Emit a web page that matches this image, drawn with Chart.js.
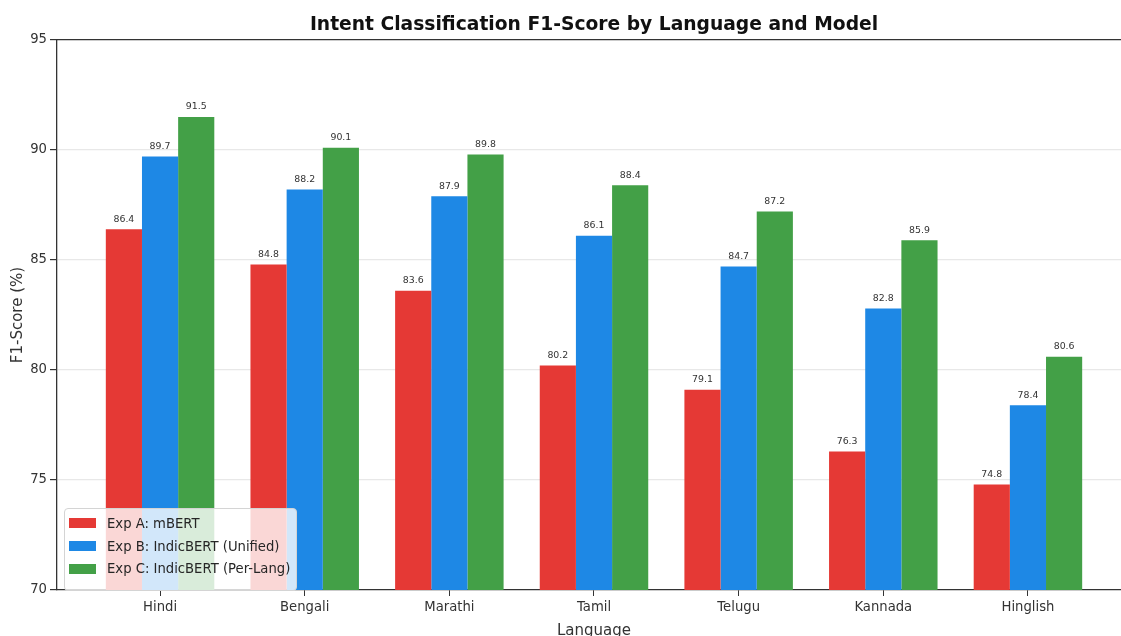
<!DOCTYPE html>
<html>
<head>
<meta charset="utf-8">
<script src="https://cdn.jsdelivr.net/npm/chart.js@4/dist/chart.umd.min.js"></script>
<style>
  html, body { margin: 0; padding: 0; background: #fff; }
  #wrap { width: 1121px; height: 636px; overflow: hidden; position: relative; }
  #inner { position: absolute; left: 0; top: 0; width: 1188px; height: 660px; }
  #legend {
    position: absolute; left: 64px; top: 508px; width: 231px; height: 78px;
    border: 1px solid #d4d4d4; border-radius: 4px; background: rgba(255,255,255,0.8);
    font-family: 'DejaVu Sans', sans-serif; font-size: 13.2px; color: #262626;
    padding-top: 3px; box-sizing: content-box; white-space: nowrap;
  }
  #legend .row { height: 22.7px; display: flex; align-items: center; }
  #legend .sw { width: 27px; height: 10px; margin-left: 4px; margin-right: 11px; flex: none; }
</style>
</head>
<body>
<div id="wrap">
  <div id="inner">
    <canvas id="myChart" width="1188" height="660"></canvas>
  </div>
  <div id="legend"></div>
</div>
<script>
// data
var languages = ['Hindi', 'Bengali', 'Marathi', 'Tamil', 'Telugu', 'Kannada', 'Hinglish'];
var seriesNames = ['Exp A: mBERT', 'Exp B: IndicBERT (Unified)', 'Exp C: IndicBERT (Per-Lang)'];
var expA = [86.4, 84.8, 83.6, 80.2, 79.1, 76.3, 74.8];
var expB = [89.7, 88.2, 87.9, 86.1, 84.7, 82.8, 78.4];
var expC = [91.5, 90.1, 89.8, 88.4, 87.2, 85.9, 80.6];
var yTicks = [70, 75, 80, 85, 90, 95];

var colors = ['#E53935', '#1E88E5', '#43A047'];
var font = "'DejaVu Sans', sans-serif";
var dark = '#333333';

function points(vals) {
    return vals.map(function (v, i) { return { x: i, y: v }; });
}

var valueLabels = {
    id: 'valueLabels',
    afterDatasetsDraw: function (chart) {
        var c = chart.ctx;
        c.save();
        c.font = '9.4px ' + font;
        c.fillStyle = dark;
        c.textAlign = 'center';
        c.textBaseline = 'middle';
        chart.data.datasets.forEach(function (ds, di) {
            chart.getDatasetMeta(di).data.forEach(function (bar, i) {
                c.fillText(ds.data[i].y.toFixed(1), bar.x, bar.y - 10);
            });
        });
        c.restore();
    }
};

var ctx = document.getElementById('myChart');
var myChart = new Chart(ctx, {
    type: 'bar',
    data: {
        datasets: [
            { label: seriesNames[0], data: points(expA), backgroundColor: colors[0] },
            { label: seriesNames[1], data: points(expB), backgroundColor: colors[1] },
            { label: seriesNames[2], data: points(expC), backgroundColor: colors[2] }
        ]
    },
    options: {
        responsive: false,
        animation: false,
        devicePixelRatio: 1,
        categoryPercentage: 0.75,
        barPercentage: 1.0,
        layout: { padding: 0 },
        plugins: {
            legend: { display: false },
            tooltip: { enabled: false },
            title: {
                display: true,
                text: 'Intent Classification F1-Score by Language and Model',
                color: '#111',
                font: { family: font, size: 18.7, weight: 'bold', lineHeight: 1.2 },
                padding: { top: 14, bottom: 3.56 }
            }
        },
        scales: {
            x: {
                type: 'linear',
                min: -0.7125,
                max: 6.7125,
                offset: false,
                afterBuildTicks: function (axis) {
                    axis.ticks = languages.map(function (l, i) { return { value: i }; });
                },
                afterFit: function (axis) { axis.height = 70; },
                ticks: {
                    callback: function (v) { return languages[v]; },
                    color: dark,
                    font: { family: font, size: 13.2 },
                    padding: 4,
                    maxRotation: 0,
                    autoSkip: false
                },
                grid: { drawOnChartArea: false, drawTicks: true, tickLength: 6, tickColor: dark, offset: false },
                border: { color: dark, width: 1.3 },
                title: {
                    display: true,
                    text: 'Language',
                    color: dark,
                    font: { family: font, size: 15 },
                    padding: { top: 0, bottom: 20 }
                }
            },
            x2: {
                type: 'linear',
                position: 'top',
                min: -0.7125,
                max: 6.7125,
                afterFit: function (axis) { axis.height = 0; },
                ticks: { display: false },
                grid: { display: false },
                border: { display: true, color: dark, width: 1.3 }
            },
            y: {
                min: 70,
                max: 95,
                afterBuildTicks: function (axis) {
                    axis.ticks = yTicks.map(function (v) { return { value: v }; });
                },
                afterFit: function (axis) { axis.width = 57; },
                ticks: {
                    color: dark,
                    font: { family: font, size: 13.2 },
                    padding: 3
                },
                grid: {
                    color: function (c) {
                        return (c.tick && (c.tick.value === 95 || c.tick.value === 70)) ? 'rgba(0,0,0,0)' : '#e8e8e8';
                    },
                    lineWidth: 1.2,
                    tickLength: 7,
                    tickColor: dark
                },
                border: { color: dark, width: 1.3 },
                title: {
                    display: true,
                    text: 'F1-Score (%)',
                    color: dark,
                    font: { family: font, size: 15 },
                    padding: { top: 9, bottom: 0 }
                }
            },
            // empty right margin so the title centres over the full figure
            y2: {
                position: 'right',
                min: 70,
                max: 95,
                afterFit: function (axis) { axis.width = 57; },
                ticks: { display: false },
                grid: { display: false },
                border: { display: false }
            }
        }
    },
    plugins: [valueLabels]
});

// legend box in the lower left of the plot
var lg = document.getElementById('legend');
seriesNames.forEach(function (name, i) {
    var row = document.createElement('div');
    row.className = 'row';
    var sw = document.createElement('span');
    sw.className = 'sw';
    sw.style.background = colors[i];
    var tx = document.createElement('span');
    tx.textContent = name;
    row.appendChild(sw);
    row.appendChild(tx);
    lg.appendChild(row);
});
</script>
</body>
</html>
